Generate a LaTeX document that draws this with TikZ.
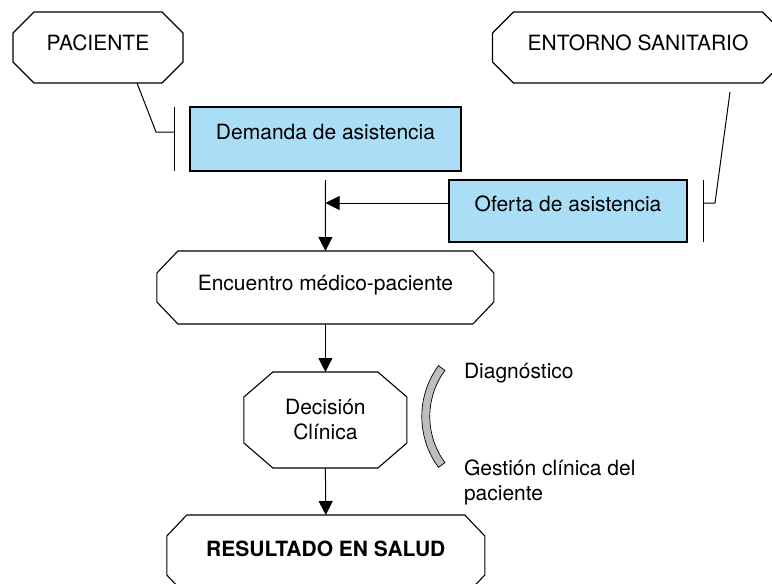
\documentclass[tikz,border=0pt]{standalone}
\usepackage{fontspec}
\setmainfont{TeX Gyre Heros}
\usetikzlibrary{arrows.meta,calc}
\definecolor{boxblue}{RGB}{170,222,247}
\definecolor{arcgray}{RGB}{190,190,192}
\newcommand\octo[3]{\draw[shapeline] ([xshift=#2]#1.north west) -- ([xshift=-#2]#1.north east) -- ([yshift=-#3]#1.north east) -- ([yshift=#3]#1.south east) -- ([xshift=-#2]#1.south east) -- ([xshift=#2]#1.south west) -- ([yshift=#3]#1.south west) -- ([yshift=-#3]#1.north west) -- cycle;}
\begin{document}
\begin{tikzpicture}[x=1pt,y=-1pt,
  lbl/.style={font=\fontsize{21}{25}\selectfont, inner sep=0pt, outer sep=0pt},
  octnode/.style={lbl, text height=15pt, text depth=9pt},
  bluebox/.style={lbl, draw, fill=boxblue, line width=1.1pt, text height=15pt, text depth=15pt},
  shapeline/.style={line width=1.1pt, line join=miter},
  conn/.style={line width=1pt},
  arr/.style={line width=1pt, -{Triangle[length=14pt,width=14pt]}}
]
\useasboundingbox (0,0) rectangle (772,584);

% nodes
\node[octnode, minimum width=170pt, minimum height=71pt] (pac) at (98,47.5) {PACIENTE};
\node[octnode, minimum width=291pt, minimum height=71pt] (ent) at (638,47.5) {ENTORNO SANITARIO};
\node[bluebox, minimum width=271pt, minimum height=64pt] (dem) at (325.5,139) {Demanda de asistencia};
\node[bluebox, minimum width=238pt, minimum height=62pt] (ofe) at (568,211) {Oferta de asistencia};
\node[octnode, minimum width=337pt, minimum height=73pt] (enc) at (325.4,287.5) {Encuentro médico-paciente};
\node[lbl, align=center, minimum width=163pt, minimum height=96pt] (dec) at (325.4,420) {Decisión\\Clínica};
\node[lbl, font=\fontsize{21}{25}\selectfont\bfseries, text height=15pt, text depth=14pt, minimum width=318pt, minimum height=81pt] (res) at (325.8,555.5) {RESULTADO EN SALUD};

\octo{pac}{21pt}{21pt}
\octo{ent}{21pt}{21pt}
\octo{enc}{21pt}{22pt}
\octo{dec}{29pt}{25pt}
\octo{res}{20pt}{21pt}

% bars and links
\draw[conn] ([xshift=-16pt]dem.north west) -- ([xshift=-16pt]dem.south west);
\coordinate (pb) at ([xshift=-16pt,yshift=7pt]dem.west);
\draw[conn] ([xshift=39pt]pac.south) -- ([xshift=-18pt]pb) -- (pb);

\draw[conn] ([xshift=16pt]ofe.north east) -- ([xshift=16pt]ofe.south east);
\coordinate (eb) at ([xshift=16pt,yshift=8pt]ofe.east);
\draw[conn] ([xshift=92pt,yshift=-9pt]ent.south) -- ([xshift=12pt]eb) -- (eb);

% main flow
\draw[arr] ([yshift=-9pt]dem.south) -- (enc.north);
\draw[arr] ([yshift=8pt]ofe.west) -- ([yshift=8pt]ofe.west -| dem.south);
\draw[arr] (enc.south) -- (dec.north);
\draw[arr] (dec.south) -- (res.north);

% gray bracket
\coordinate (ac) at (507.7,416.5);
\draw[fill=arcgray, line width=0.7pt] ($(ac)+(143.7:85.9)$) arc[start angle=143.7, end angle=216.3, radius=85.9] -- ($(ac)+(216.3:77.9)$) arc[start angle=216.3, end angle=143.7, radius=77.9] -- cycle;

\node[lbl, anchor=base west] (diag) at (464,378) {Diagnóstico};
\node[lbl, anchor=north west, align=left] (gest) at (464,459.5) {Gestión clínica del\\paciente};
\end{tikzpicture}
\end{document}
